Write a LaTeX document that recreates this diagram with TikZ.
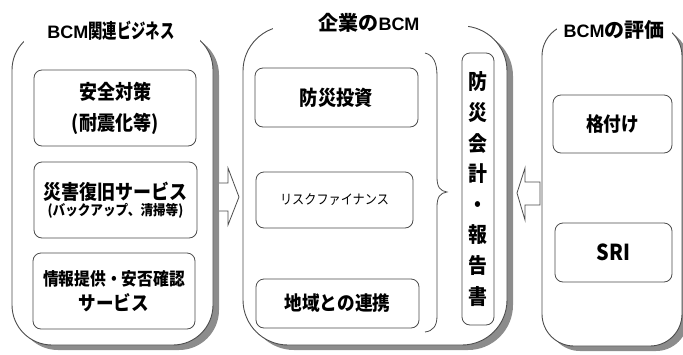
\documentclass[tikz,border=0pt]{standalone}
\usepackage{fontspec}
\setmainfont{Noto Sans CJK JP}[FakeStretch=0.9]
\newfontfamily\jpw{Noto Sans CJK JP}
\newfontfamily\jpc{Noto Sans CJK JP}[FakeStretch=0.72]
\newfontfamily\lat{Liberation Sans}
\tikzset{
  shadowfill/.style={fill=black!45},
  panelline/.style={draw=black!70, line width=0.9pt, fill=white},
  box/.style={draw=black!70, line width=0.8pt, rounded corners=8pt, fill=white, align=center, inner sep=0pt},
  ttl/.style={inner sep=1pt},
  blockarrow/.style={draw=black!70, line width=0.8pt, fill=white, line join=miter},
}
\begin{document}
\begin{tikzpicture}[x=1pt,y=-1pt]
\useasboundingbox (0,0) rectangle (683,354);
% ---------- left panel
\fill[shadowfill, rounded corners=40pt] (18,35) rectangle (219,350);
\draw[panelline, rounded corners=40pt] (12,30) rectangle (213,345);
\fill[white] (24,16) rectangle (200,43);
\node[ttl] (t1) at (111,31)
  {{\lat\fontsize{18}{20}\selectfont\bfseries BCM}{\jpc\fontsize{20}{20}\selectfont\bfseries 関連ビジネス}};
% ---------- middle panel
\fill[shadowfill, rounded corners=45pt] (249,31) rectangle (513,350);
\draw[panelline, rounded corners=45pt] (243,26) rectangle (507,345);
\fill[white] (273,10) rectangle (468,31);
\node[ttl] (t2) at (369,23)
  {{\jpw\fontsize{20}{20}\selectfont\bfseries 企業の}{\lat\fontsize{18}{20}\selectfont\bfseries BCM}};
% ---------- right panel
\fill[shadowfill, rounded corners=32pt] (548,29) rectangle (688,351);
\draw[panelline, rounded corners=32pt] (542,24) rectangle (682,346);
\fill[white] (557,10) rectangle (672,34);
\node[ttl] (t3) at (614,30)
  {{\lat\fontsize{18}{20}\selectfont\bfseries BCM}{\jpw\fontsize{20}{20}\selectfont\bfseries の評価}};
% ---------- left boxes
\node[box, minimum width=162pt, minimum height=76pt,
      font=\fontsize{20}{31}\selectfont\bfseries] (b1) at (115,108)
      {安全対策\\(耐震化等)};
\node[box, minimum width=163pt, minimum height=76pt] (b2) at (115.5,200)
      {{\fontsize{20}{20}\selectfont\bfseries 災害復旧サービス}\\[1pt]
       {\fontsize{14}{15}\selectfont\bfseries (バックアップ、清掃等)}};
\node[box, minimum width=162pt, minimum height=76pt] (b3) at (114,291)
      {{\fontsize{17.5}{18}\selectfont\bfseries 情報提供・安否確認}\\[5pt]
       {\fontsize{19.5}{20}\selectfont\bfseries サービス}};
% ---------- middle boxes
\node[box, minimum width=163pt, minimum height=59pt,
      font=\fontsize{20.3}{20}\selectfont\bfseries] (m1) at (336.5,97.5) {防災投資};
\node[box, minimum width=157pt, minimum height=56pt,
      font=\fontsize{13.5}{15}\selectfont] (m2) at (334.5,200) {リスクファイナンス};
\node[box, minimum width=163pt, minimum height=49pt,
      font=\fontsize{19.6}{20}\selectfont\bfseries] (m3) at (337.5,303.5) {地域との連携};
% brace
\coordinate (brT) at (425,53);
\coordinate (brM) at (447,192);
\coordinate (brB) at (425,332);
\draw[black!70, line width=0.8pt] (brT) .. controls (433,55) and (437,62) .. (437,76)
  -- (437,177) .. controls (437,187) and (440,191) .. (brM)
  .. controls (440,193) and (437,197) .. (437,207)
  -- (437,316) .. controls (437,326) and (433,331) .. (brB);
% vertical box
\node[box, minimum width=32pt, minimum height=272pt,
      font=\fontsize{21}{30.6}\selectfont\bfseries] (v) at (478,189)
      {防\\災\\会\\計\\・\\報\\告\\書};
% ---------- right boxes
\node[box, minimum width=119pt, minimum height=58pt,
      font=\fontsize{19.6}{20}\selectfont\bfseries] (r1) at (612.5,124) {格付け};
\node[box, minimum width=117pt, minimum height=59pt,
      font=\fontsize{22}{20}\selectfont\bfseries] (r2) at (613.5,252.5) {SRI};
% ---------- block arrows
\filldraw[blockarrow] (219,183) -- (228,183) -- (228,168) -- (239,197)
  -- (228,225) -- (228,211) -- (219,211);
\filldraw[blockarrow] (540,182) -- (525,182) -- (525,168) -- (517,193)
  -- (525,220) -- (525,205) -- (540,205) -- cycle;
\end{tikzpicture}
\end{document}
